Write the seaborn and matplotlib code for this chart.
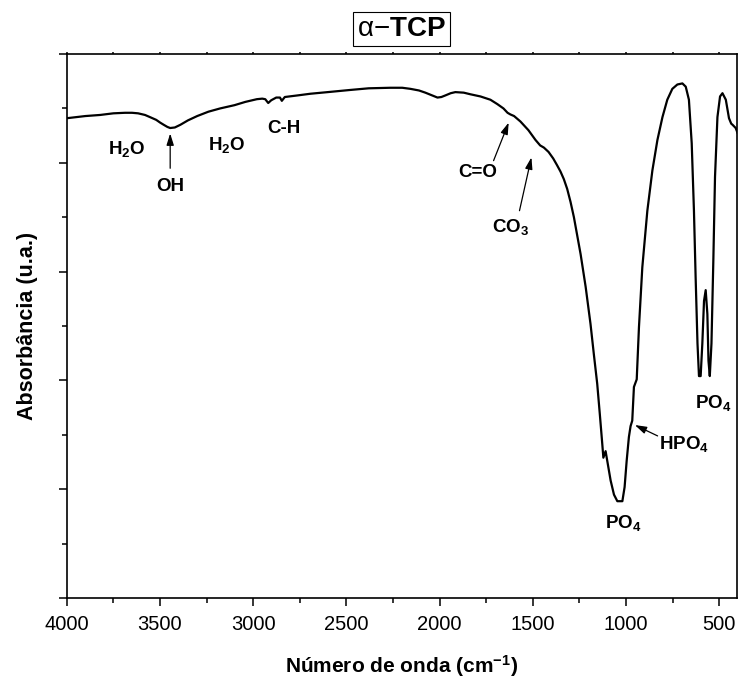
import numpy as np
import pandas as pd
import matplotlib
matplotlib.use("Agg")
import matplotlib.pyplot as plt
import seaborn as sns

# ---- data ----
wavenumber = [4000, 3900, 3821, 3750, 3687, 3650, 3617, 3580, 3553, 3520,
              3499, 3480, 3460, 3445, 3420, 3390, 3350, 3300, 3240, 3177,
              3100, 3042, 2980, 2951, 2935, 2919, 2903, 2876, 2856, 2846,
              2830, 2760, 2693, 2600, 2478, 2380, 2264, 2200, 2156, 2110,
              2076, 2040, 2011, 1990, 1968, 1940, 1915, 1870, 1834, 1780,
              1727, 1690, 1657, 1635, 1620, 1600, 1566, 1523, 1485, 1460,
              1440, 1415, 1390, 1370, 1351, 1333, 1315, 1297, 1279, 1243, 1216, 1190,
              1172, 1154, 1140, 1127, 1121, 1109, 1097, 1082, 1064, 1046,
              1019, 1007, 996, 984, 975, 966, 957, 942, 930, 912,
              885, 858, 831, 804, 778, 751, 724, 697, 679, 662,
              647, 635, 626, 616, 608, 599, 590, 581, 572, 563,
              557, 550, 541, 531, 522, 509, 495, 482, 464, 447,
              435, 428, 411, 400]
absorbance = [4.41, 4.43, 4.44, 4.455, 4.46, 4.46, 4.455, 4.44, 4.42, 4.395,
              4.37, 4.35, 4.33, 4.32, 4.325, 4.35, 4.39, 4.43, 4.47, 4.50,
              4.53, 4.56, 4.585, 4.59, 4.585, 4.55, 4.575, 4.60, 4.60, 4.57,
              4.605, 4.62, 4.635, 4.65, 4.67, 4.685, 4.69, 4.69, 4.68, 4.665,
              4.645, 4.62, 4.60, 4.605, 4.62, 4.64, 4.65, 4.645, 4.63, 4.61,
              4.58, 4.54, 4.50, 4.46, 4.445, 4.43, 4.38, 4.30, 4.21, 4.16,
              4.14, 4.10, 4.04, 3.98, 3.92, 3.85, 3.76, 3.64, 3.50, 3.16, 2.86, 2.52,
              2.24, 1.97, 1.69, 1.42, 1.29, 1.35, 1.23, 1.08, 0.95, 0.89,
              0.89, 1.02, 1.26, 1.48, 1.58, 1.63, 1.94, 2.01, 2.49, 3.04,
              3.56, 3.93, 4.21, 4.42, 4.58, 4.68, 4.72, 4.73, 4.70, 4.58,
              4.18, 3.56, 2.95, 2.34, 2.04, 2.04, 2.34, 2.73, 2.83, 2.61,
              2.18, 2.04, 2.34, 3.10, 3.87, 4.42, 4.61, 4.64, 4.58, 4.41,
              4.36, 4.35, 4.32, 4.27]

x_ticks = [4000, 3500, 3000, 2500, 2000, 1500, 1000, 500]
x_tick_labels = ["4000", "3500", "3000", "2500", "2000", "1500", "1000", "500"]

# band labels: text, text position (wn, A), arrow tail, arrow head (None = no arrow)
band_labels = ["H$_2$O", "OH", "H$_2$O", "C-H", "C=O", "CO$_3$", "HPO$_4$", "PO$_4$", "PO$_4$"]
label_wn = [3676, 3445, 3144, 2833, 1796, 1619, 690, 1012, 534]
label_a = [4.13, 3.78, 4.16, 4.32, 3.91, 3.41, 1.42, 0.69, 1.79]
arrow_tail_wn = [None, 3445, None, None, 1710, 1571, 830, None, None]
arrow_tail_a = [None, 3.95, None, None, 4.02, 3.56, 1.49, None, None]
arrow_head_wn = [None, 3445, None, None, 1629, 1507, 952, None, None]
arrow_head_a = [None, 4.27, None, None, 4.37, 4.05, 1.59, None, None]

df = pd.DataFrame({"wn": wavenumber, "A": absorbance})

sns.set_style("ticks")
plt.rcParams["font.family"] = ["Liberation Sans", "DejaVu Sans"]
plt.rcParams["mathtext.fontset"] = "custom"
plt.rcParams["mathtext.rm"] = "Liberation Sans"
plt.rcParams["mathtext.it"] = "Liberation Sans:italic"
plt.rcParams["mathtext.bf"] = "Liberation Sans:bold"
plt.rcParams["mathtext.default"] = "bf"
plt.rcParams["text.color"] = "black"
plt.rcParams["axes.labelcolor"] = "black"
plt.rcParams["xtick.color"] = "black"
plt.rcParams["ytick.color"] = "black"
plt.rcParams["xtick.labelcolor"] = "black"
plt.rcParams["ytick.labelcolor"] = "black"

fig = plt.figure(figsize=(7.39, 6.84), dpi=100)
ax = fig.add_axes([0.0903, 0.1257, 0.9070, 0.7953])

sns.lineplot(data=df, x="wn", y="A", ax=ax, color="black", linewidth=1.6,
             sort=False, estimator=None)

ax.set_xlim(4000, 404)
ax.set_ylim(0, 5)
ax.set_xticks(x_ticks)
ax.set_xticklabels(x_tick_labels, fontsize=14.5, color="black")
ax.set_xticks(np.arange(3750, 400, -500), minor=True)
ax.set_yticks(np.arange(0, 5.01, 1))
ax.set_yticks(np.arange(0.5, 5, 1), minor=True)
ax.set_yticklabels([])

for s in ax.spines.values():
    s.set_linewidth(1.2)
    s.set_color("black")
ax.tick_params(axis="both", which="major", direction="out", length=6, width=1.1,
               color="black", labelcolor="black", pad=6)
ax.tick_params(axis="both", which="minor", direction="out", length=3.5, width=1.1,
               color="black")
ax.tick_params(axis="x", which="both", top=True, labeltop=False)

ax.set_xlabel("Número de onda (cm$^{-1}$)", fontsize=15, fontweight="bold", labelpad=14,
              color="black")
ax.set_ylabel("Absorbância (u.a.)", fontsize=15.5, fontweight="bold", color="black")
ax.yaxis.set_label_coords(-0.043, 0.5)

# top ticks very short
for t in ax.xaxis.get_major_ticks() + ax.xaxis.get_minor_ticks():
    t.tick2line.set_markersize(1.5)

for i, lab in enumerate(band_labels):
    ax.text(label_wn[i], label_a[i], lab, fontsize=13.5, fontweight="bold",
            ha="center", va="center", color="black")
    if arrow_tail_wn[i] is not None:
        ax.annotate("", xy=(arrow_head_wn[i], arrow_head_a[i]),
                    xytext=(arrow_tail_wn[i], arrow_tail_a[i]),
                    arrowprops=dict(arrowstyle="-|>,head_length=0.7,head_width=0.22",
                                    color="black", lw=0.9, shrinkA=0, shrinkB=0))

ax.set_title(r"$\mathrm{\alpha{-}}$TCP", fontsize=20, fontweight="bold", pad=13,
             color="black",
             bbox=dict(boxstyle="square,pad=0.15", facecolor="white",
                       edgecolor="black", linewidth=0.8))

fig.savefig("out.png", dpi=100)
